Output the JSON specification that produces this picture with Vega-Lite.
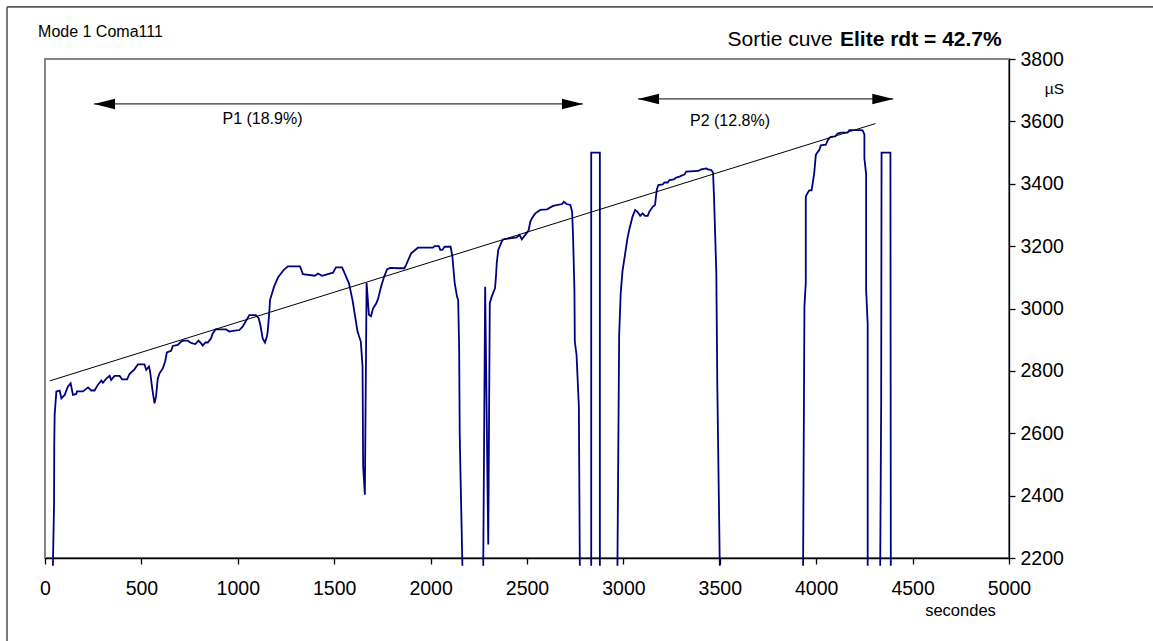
{
  "$schema": "https://vega.github.io/schema/vega-lite/v6.json",
  "width": 964,
  "height": 499,
  "autosize": {"type": "none"},
  "padding": {"left": 45, "top": 59, "right": 144, "bottom": 83},
  "background": "white",
  "config": {
    "view": {"stroke": "#858585", "strokeWidth": 2},
    "font": "Liberation Sans",
    "axis": {
      "grid": false,
      "labelFont": "Liberation Sans",
      "labelFontSize": 19.5,
      "labelColor": "#000000",
      "domainColor": "#000000",
      "domainWidth": 1.3,
      "tickColor": "#000000",
      "tickWidth": 1.3,
      "tickSize": 6,
      "titleFont": "Liberation Sans",
      "titleColor": "#000000",
      "titleFontWeight": "normal"
    }
  },
  "datasets": {
    "series": [
      {"x": 41, "y": 2175, "s": 1}, {"x": 47, "y": 2376, "s": 1}, {"x": 48, "y": 2558, "s": 1}, {"x": 50, "y": 2659, "s": 1},
      {"x": 59, "y": 2734, "s": 1}, {"x": 76, "y": 2737, "s": 1}, {"x": 85, "y": 2712, "s": 1}, {"x": 102, "y": 2723, "s": 1},
      {"x": 119, "y": 2750, "s": 1}, {"x": 133, "y": 2760, "s": 1}, {"x": 145, "y": 2723, "s": 1}, {"x": 162, "y": 2726, "s": 1},
      {"x": 166, "y": 2734, "s": 1}, {"x": 197, "y": 2734, "s": 1}, {"x": 223, "y": 2747, "s": 1}, {"x": 240, "y": 2737, "s": 1},
      {"x": 257, "y": 2737, "s": 1}, {"x": 274, "y": 2755, "s": 1}, {"x": 292, "y": 2769, "s": 1}, {"x": 300, "y": 2762, "s": 1},
      {"x": 318, "y": 2775, "s": 1}, {"x": 335, "y": 2784, "s": 1}, {"x": 343, "y": 2771, "s": 1}, {"x": 361, "y": 2784, "s": 1},
      {"x": 387, "y": 2784, "s": 1}, {"x": 400, "y": 2773, "s": 1}, {"x": 426, "y": 2773, "s": 1}, {"x": 438, "y": 2790, "s": 1},
      {"x": 464, "y": 2805, "s": 1}, {"x": 482, "y": 2821, "s": 1}, {"x": 516, "y": 2821, "s": 1}, {"x": 525, "y": 2803, "s": 1},
      {"x": 539, "y": 2814, "s": 1}, {"x": 545, "y": 2798, "s": 1}, {"x": 556, "y": 2744, "s": 1}, {"x": 568, "y": 2696, "s": 1},
      {"x": 576, "y": 2718, "s": 1}, {"x": 585, "y": 2776, "s": 1}, {"x": 594, "y": 2792, "s": 1}, {"x": 611, "y": 2808, "s": 1},
      {"x": 623, "y": 2830, "s": 1}, {"x": 632, "y": 2859, "s": 1}, {"x": 654, "y": 2864, "s": 1}, {"x": 663, "y": 2880, "s": 1},
      {"x": 689, "y": 2883, "s": 1}, {"x": 706, "y": 2894, "s": 1}, {"x": 718, "y": 2897, "s": 1}, {"x": 741, "y": 2897, "s": 1},
      {"x": 753, "y": 2891, "s": 1}, {"x": 766, "y": 2888, "s": 1}, {"x": 780, "y": 2886, "s": 1}, {"x": 796, "y": 2897, "s": 1},
      {"x": 810, "y": 2888, "s": 1}, {"x": 818, "y": 2881, "s": 1}, {"x": 832, "y": 2891, "s": 1}, {"x": 844, "y": 2891, "s": 1},
      {"x": 861, "y": 2904, "s": 1}, {"x": 870, "y": 2920, "s": 1}, {"x": 884, "y": 2933, "s": 1}, {"x": 939, "y": 2933, "s": 1},
      {"x": 956, "y": 2926, "s": 1}, {"x": 982, "y": 2929, "s": 1}, {"x": 1008, "y": 2931, "s": 1}, {"x": 1025, "y": 2942, "s": 1},
      {"x": 1060, "y": 2979, "s": 1}, {"x": 1094, "y": 2979, "s": 1}, {"x": 1108, "y": 2969, "s": 1}, {"x": 1117, "y": 2947, "s": 1},
      {"x": 1129, "y": 2904, "s": 1}, {"x": 1141, "y": 2891, "s": 1}, {"x": 1151, "y": 2910, "s": 1}, {"x": 1155, "y": 2926, "s": 1},
      {"x": 1163, "y": 2985, "s": 1}, {"x": 1167, "y": 3027, "s": 1}, {"x": 1188, "y": 3070, "s": 1}, {"x": 1209, "y": 3100, "s": 1},
      {"x": 1240, "y": 3125, "s": 1}, {"x": 1260, "y": 3135, "s": 1}, {"x": 1323, "y": 3135, "s": 1}, {"x": 1338, "y": 3110, "s": 1},
      {"x": 1400, "y": 3105, "s": 1}, {"x": 1416, "y": 3112, "s": 1}, {"x": 1437, "y": 3105, "s": 1}, {"x": 1494, "y": 3115, "s": 1},
      {"x": 1509, "y": 3132, "s": 1}, {"x": 1541, "y": 3132, "s": 1}, {"x": 1556, "y": 3110, "s": 1}, {"x": 1577, "y": 3080, "s": 1},
      {"x": 1595, "y": 3027, "s": 1}, {"x": 1621, "y": 2926, "s": 1}, {"x": 1638, "y": 2894, "s": 1}, {"x": 1647, "y": 2814, "s": 1},
      {"x": 1650, "y": 2494, "s": 1}, {"x": 1659, "y": 2403, "s": 1}, {"x": 1668, "y": 3082, "s": 1}, {"x": 1680, "y": 2980, "s": 1},
      {"x": 1691, "y": 2975, "s": 1}, {"x": 1701, "y": 3000, "s": 1}, {"x": 1717, "y": 3015, "s": 1}, {"x": 1727, "y": 3030, "s": 1},
      {"x": 1743, "y": 3070, "s": 1}, {"x": 1758, "y": 3100, "s": 1}, {"x": 1774, "y": 3125, "s": 1}, {"x": 1790, "y": 3130, "s": 1},
      {"x": 1838, "y": 3129, "s": 1}, {"x": 1864, "y": 3129, "s": 1}, {"x": 1873, "y": 3140, "s": 1}, {"x": 1899, "y": 3177, "s": 1},
      {"x": 1934, "y": 3195, "s": 1}, {"x": 2012, "y": 3195, "s": 1}, {"x": 2021, "y": 3200, "s": 1}, {"x": 2043, "y": 3200, "s": 1},
      {"x": 2050, "y": 3188, "s": 1}, {"x": 2061, "y": 3188, "s": 1}, {"x": 2073, "y": 3198, "s": 1}, {"x": 2104, "y": 3198, "s": 1},
      {"x": 2113, "y": 3166, "s": 1}, {"x": 2125, "y": 3081, "s": 1}, {"x": 2137, "y": 3038, "s": 1}, {"x": 2143, "y": 3027, "s": 1},
      {"x": 2148, "y": 2878, "s": 1}, {"x": 2151, "y": 2600, "s": 1}, {"x": 2156, "y": 2440, "s": 1}, {"x": 2165, "y": 2175, "s": 1},
      {"x": 2273, "y": 2175, "s": 2}, {"x": 2283, "y": 3070, "s": 2}, {"x": 2299, "y": 2243, "s": 2}, {"x": 2307, "y": 3017, "s": 2},
      {"x": 2317, "y": 3038, "s": 2}, {"x": 2334, "y": 3065, "s": 2}, {"x": 2339, "y": 3102, "s": 2}, {"x": 2343, "y": 3145, "s": 2},
      {"x": 2351, "y": 3188, "s": 2}, {"x": 2369, "y": 3214, "s": 2}, {"x": 2377, "y": 3222, "s": 2}, {"x": 2447, "y": 3228, "s": 2},
      {"x": 2461, "y": 3236, "s": 2}, {"x": 2473, "y": 3222, "s": 2}, {"x": 2491, "y": 3236, "s": 2}, {"x": 2508, "y": 3250, "s": 2},
      {"x": 2517, "y": 3278, "s": 2}, {"x": 2525, "y": 3289, "s": 2}, {"x": 2543, "y": 3305, "s": 2}, {"x": 2569, "y": 3316, "s": 2},
      {"x": 2604, "y": 3318, "s": 2}, {"x": 2635, "y": 3329, "s": 2}, {"x": 2682, "y": 3335, "s": 2}, {"x": 2691, "y": 3342, "s": 2},
      {"x": 2705, "y": 3335, "s": 2}, {"x": 2725, "y": 3332, "s": 2}, {"x": 2734, "y": 3310, "s": 2}, {"x": 2739, "y": 3230, "s": 2},
      {"x": 2746, "y": 3059, "s": 2}, {"x": 2748, "y": 2894, "s": 2}, {"x": 2757, "y": 2851, "s": 2}, {"x": 2769, "y": 2686, "s": 2},
      {"x": 2774, "y": 2175, "s": 2},
      {"x": 2833, "y": 2175, "s": 3}, {"x": 2833, "y": 3500, "s": 3}, {"x": 2878, "y": 3500, "s": 3}, {"x": 2878, "y": 2175, "s": 3},
      {"x": 2969, "y": 2175, "s": 4}, {"x": 2978, "y": 2915, "s": 4}, {"x": 2986, "y": 3049, "s": 4}, {"x": 2995, "y": 3118, "s": 4},
      {"x": 3021, "y": 3225, "s": 4}, {"x": 3030, "y": 3252, "s": 4}, {"x": 3047, "y": 3294, "s": 4}, {"x": 3061, "y": 3316, "s": 4},
      {"x": 3073, "y": 3310, "s": 4}, {"x": 3087, "y": 3297, "s": 4}, {"x": 3100, "y": 3305, "s": 4}, {"x": 3112, "y": 3297, "s": 4},
      {"x": 3126, "y": 3297, "s": 4}, {"x": 3134, "y": 3310, "s": 4}, {"x": 3152, "y": 3326, "s": 4}, {"x": 3164, "y": 3332, "s": 4},
      {"x": 3173, "y": 3380, "s": 4}, {"x": 3181, "y": 3396, "s": 4}, {"x": 3204, "y": 3398, "s": 4}, {"x": 3213, "y": 3404, "s": 4},
      {"x": 3230, "y": 3404, "s": 4}, {"x": 3239, "y": 3412, "s": 4}, {"x": 3261, "y": 3414, "s": 4}, {"x": 3274, "y": 3420, "s": 4},
      {"x": 3291, "y": 3423, "s": 4}, {"x": 3317, "y": 3430, "s": 4}, {"x": 3326, "y": 3439, "s": 4}, {"x": 3387, "y": 3441, "s": 4},
      {"x": 3404, "y": 3446, "s": 4}, {"x": 3430, "y": 3449, "s": 4}, {"x": 3439, "y": 3446, "s": 4}, {"x": 3456, "y": 3444, "s": 4},
      {"x": 3465, "y": 3435, "s": 4}, {"x": 3470, "y": 3358, "s": 4}, {"x": 3482, "y": 3113, "s": 4}, {"x": 3487, "y": 2760, "s": 4},
      {"x": 3494, "y": 2440, "s": 4}, {"x": 3500, "y": 2175, "s": 4},
      {"x": 3932, "y": 2175, "s": 5}, {"x": 3939, "y": 3006, "s": 5}, {"x": 3946, "y": 3083, "s": 5}, {"x": 3946, "y": 3359, "s": 5},
      {"x": 3955, "y": 3370, "s": 5}, {"x": 3964, "y": 3379, "s": 5}, {"x": 3976, "y": 3379, "s": 5}, {"x": 3981, "y": 3398, "s": 5},
      {"x": 3990, "y": 3436, "s": 5}, {"x": 3998, "y": 3492, "s": 5}, {"x": 4002, "y": 3497, "s": 5}, {"x": 4016, "y": 3508, "s": 5},
      {"x": 4024, "y": 3523, "s": 5}, {"x": 4050, "y": 3525, "s": 5}, {"x": 4059, "y": 3538, "s": 5}, {"x": 4068, "y": 3547, "s": 5},
      {"x": 4076, "y": 3550, "s": 5}, {"x": 4099, "y": 3552, "s": 5}, {"x": 4111, "y": 3561, "s": 5}, {"x": 4128, "y": 3564, "s": 5},
      {"x": 4163, "y": 3564, "s": 5}, {"x": 4172, "y": 3572, "s": 5}, {"x": 4224, "y": 3572, "s": 5}, {"x": 4241, "y": 3571, "s": 5},
      {"x": 4250, "y": 3558, "s": 5}, {"x": 4250, "y": 3481, "s": 5}, {"x": 4259, "y": 3431, "s": 5}, {"x": 4259, "y": 3061, "s": 5},
      {"x": 4267, "y": 2950, "s": 5}, {"x": 4267, "y": 2175, "s": 5},
      {"x": 4332, "y": 2175, "s": 6}, {"x": 4337, "y": 2700, "s": 6}, {"x": 4339, "y": 3500, "s": 6}, {"x": 4385, "y": 3500, "s": 6},
      {"x": 4387, "y": 2175, "s": 6}
    ],
    "trend": [{"x": 25, "y": 2768}, {"x": 4307, "y": 3593}],
    "shafts": [{"x": 254, "x2": 2790, "y": 3656}, {"x": 3076, "x2": 4400, "y": 3672}],
    "headsRight": [{"x": 2790, "y": 3656}, {"x": 4400, "y": 3672}],
    "headsLeft": [{"x": 254, "y": 3656}, {"x": 3076, "y": 3672}],
    "xticks": [{"x": 0}, {"x": 500}, {"x": 1000}, {"x": 1500}, {"x": 2000}, {"x": 2500}, {"x": 3000}, {"x": 3500}, {"x": 4000}, {"x": 4500}, {"x": 5000}],
    "yticks": [{"y": 2200}, {"y": 2400}, {"y": 2600}, {"y": 2800}, {"y": 3000}, {"y": 3200}, {"y": 3400}, {"y": 3600}, {"y": 3800}],
    "frameV": [{"x": -197, "y": 3967, "y2": 1800}],
    "frameH": [{"x": -197, "x2": 6000, "y": 3967}],
    "noteMode": [{"x": -36, "y": 3870, "t": "Mode 1 Coma111"}],
    "noteSortie": [{"x": 4085, "y": 3843, "t": "Sortie cuve"}],
    "noteElite": [{"x": 4962, "y": 3843, "t": "Elite rdt = 42.7%"}],
    "noteP": [{"x": 1128, "y": 3591, "t": "P1 (18.9%)"}, {"x": 3553, "y": 3586, "t": "P2 (12.8%)"}]
  },
  "encoding": {
    "x": {
      "field": "x",
      "type": "quantitative",
      "scale": {"domain": [0, 5000], "nice": false, "zero": false},
      "axis": {
        "orient": "bottom",
        "values": [0, 500, 1000, 1500, 2000, 2500, 3000, 3500, 4000, 4500, 5000],
        "format": "d",
        "labelPadding": 15,
        "labelFlush": false,
        "labelOverlap": false,
        "title": "secondes",
        "titleFontSize": 16.5,
        "titleX": 915,
        "titleY": 57,
        "titleAlign": "center",
        "titleBaseline": "alphabetic"
      }
    },
    "y": {
      "field": "y",
      "type": "quantitative",
      "scale": {"domain": [2200, 3800], "nice": false, "zero": false},
      "axis": {
        "orient": "right",
        "values": [2200, 2400, 2600, 2800, 3000, 3200, 3400, 3600, 3800],
        "format": "d",
        "labelPadding": 5,
        "labelFlush": false,
        "labelOverlap": false,
        "title": "µS",
        "titleAngle": 0,
        "titleFontSize": 15.5,
        "titleX": 45,
        "titleY": 34,
        "titleAlign": "center",
        "titleBaseline": "alphabetic"
      }
    }
  },
  "layer": [
    {
      "data": {"name": "frameV"},
      "mark": {"type": "rule", "color": "#5a5a5a", "strokeWidth": 1.6},
      "encoding": {"y2": {"field": "y2"}}
    },
    {
      "data": {"name": "frameH"},
      "mark": {"type": "rule", "color": "#5a5a5a", "strokeWidth": 1.6},
      "encoding": {"x2": {"field": "x2"}}
    },
    {
      "data": {"name": "xticks"},
      "mark": {"type": "tick", "orient": "vertical", "size": 13, "thickness": 1.3, "color": "#000000", "opacity": 1},
      "encoding": {"y": {"datum": 2200, "type": "quantitative"}}
    },
    {
      "data": {"name": "yticks"},
      "mark": {"type": "tick", "orient": "horizontal", "size": 13, "thickness": 1.3, "color": "#000000", "opacity": 1},
      "encoding": {"x": {"datum": 5000, "type": "quantitative"}}
    },
    {
      "data": {"name": "series"},
      "mark": {"type": "line", "color": "#000080", "strokeWidth": 1.8, "clip": false},
      "encoding": {"detail": {"field": "s", "type": "nominal"}, "order": {"value": null}}
    },
    {
      "data": {"name": "trend"},
      "mark": {"type": "line", "color": "#000000", "strokeWidth": 1},
      "encoding": {}
    },
    {
      "data": {"name": "shafts"},
      "mark": {"type": "rule", "color": "#000000", "strokeWidth": 1},
      "encoding": {"x2": {"field": "x2"}}
    },
    {
      "data": {"name": "headsRight"},
      "mark": {"type": "point", "shape": "M0,0L-2,-0.5L-2,0.5Z", "size": 441, "filled": true, "color": "#000000", "opacity": 1, "strokeWidth": 0}
    },
    {
      "data": {"name": "headsLeft"},
      "mark": {"type": "point", "shape": "M0,0L2,-0.5L2,0.5Z", "size": 441, "filled": true, "color": "#000000", "opacity": 1, "strokeWidth": 0}
    },
    {
      "data": {"name": "noteMode"},
      "mark": {"type": "text", "align": "left", "baseline": "alphabetic", "fontSize": 16, "font": "Liberation Sans", "color": "#000000"},
      "encoding": {"text": {"field": "t"}}
    },
    {
      "data": {"name": "noteSortie"},
      "mark": {"type": "text", "align": "right", "baseline": "alphabetic", "fontSize": 21, "font": "Liberation Sans", "color": "#000000"},
      "encoding": {"text": {"field": "t"}}
    },
    {
      "data": {"name": "noteElite"},
      "mark": {"type": "text", "align": "right", "baseline": "alphabetic", "fontSize": 21, "fontWeight": "bold", "font": "Liberation Sans", "color": "#000000"},
      "encoding": {"text": {"field": "t"}}
    },
    {
      "data": {"name": "noteP"},
      "mark": {"type": "text", "align": "center", "baseline": "alphabetic", "fontSize": 16, "font": "Liberation Sans", "color": "#000000"},
      "encoding": {"text": {"field": "t"}}
    }
  ]
}
